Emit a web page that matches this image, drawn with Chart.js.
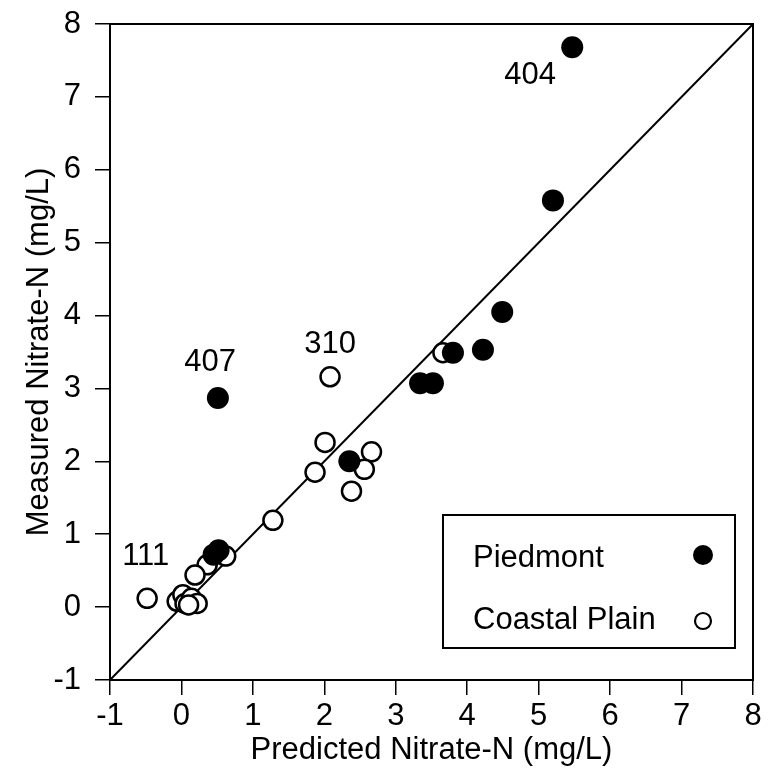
<!DOCTYPE html>
<html>
<head>
<meta charset="utf-8">
<script src="https://cdn.jsdelivr.net/npm/chart.js@4.4.0/dist/chart.umd.min.js"></script>
<style>
  html, body { margin: 0; padding: 0; background: #fff; }
  #wrap { width: 774px; height: 776px; }
</style>
</head>
<body>
<div id="wrap"><canvas id="nitrateChart"></canvas></div>
<script>
// data (mg/L)
const piedmontPredicted = [5.47, 5.20, 4.49, 4.22, 3.80, 3.34, 3.52, 2.35, 0.51, 0.45, 0.52];
const piedmontMeasured  = [7.68, 5.58, 4.05, 3.53, 3.49, 3.07, 3.07, 2.00, 2.87, 0.72, 0.78];

const coastalPredicted = [3.66, 2.08, 2.01, 1.87, 2.66, 2.56, 2.38, 1.28, 0.62, 0.36, 0.19, -0.48, -0.06, 0.02, 0.05, 0.14, 0.22, 0.10];
const coastalMeasured  = [3.49, 3.16, 2.26, 1.85, 2.13, 1.89, 1.59, 1.19, 0.70, 0.58, 0.44, 0.12, 0.08, 0.17, 0.05, 0.12, 0.05, 0.03];

const oneToOne = [-1, 8];
const seriesNames = ["Piedmont", "Coastal Plain"];

// site ids written next to outliers
const siteLabels = ["404", "407", "310", "111"];
const siteLabelX = [4.88, 0.40, 2.08, -0.50];
const siteLabelY = [7.30, 3.35, 3.61, 0.69];

const FONT = "'Liberation Sans', Arial, Helvetica, sans-serif";
const toPoints = (xs, ys) => xs.map((x, i) => ({ x, y: ys[i] }));

// frame, site labels and the boxed legend
const extrasPlugin = {
  id: "extras",
  afterDatasetsDraw(chart) {
    const { ctx, chartArea: a, scales: { x, y } } = chart;
    ctx.save();
    ctx.strokeStyle = "#000";
    ctx.lineWidth = 2;
    ctx.strokeRect(a.left, a.top, a.right - a.left, a.bottom - a.top);

    ctx.fillStyle = "#000";
    ctx.font = "31px " + FONT;
    ctx.textAlign = "center";
    ctx.textBaseline = "middle";
    siteLabels.forEach((t, i) => {
      ctx.fillText(t, x.getPixelForValue(siteLabelX[i]), y.getPixelForValue(siteLabelY[i]));
    });

    // legend box
    const boxR = a.right - 18, boxB = a.bottom - 32;
    const boxW = 292, boxH = 133;
    const boxL = boxR - boxW, boxT = boxB - boxH;
    ctx.fillStyle = "#fff";
    ctx.fillRect(boxL, boxT, boxW, boxH);
    ctx.lineWidth = 2;
    ctx.strokeRect(boxL, boxT, boxW, boxH);

    ctx.fillStyle = "#000";
    ctx.textAlign = "left";
    ctx.fillText(seriesNames[0], boxL + 30, boxT + 43);
    ctx.fillText(seriesNames[1], boxL + 30, boxT + 105);

    ctx.beginPath();
    ctx.arc(boxR - 32, boxT + 40, 10, 0, Math.PI * 2);
    ctx.fill();
    ctx.beginPath();
    ctx.arc(boxR - 32, boxT + 106, 8, 0, Math.PI * 2);
    ctx.lineWidth = 2.2;
    ctx.stroke();
    ctx.restore();
  }
};

const axisGrid = {
  display: true,
  drawOnChartArea: false,
  drawTicks: true,
  tickLength: 15,
  color: "#000",
  lineWidth: 1.5
};

new Chart(document.getElementById("nitrateChart"), {
  type: "scatter",
  data: {
    datasets: [
      {
        label: seriesNames[0],
        data: toPoints(piedmontPredicted, piedmontMeasured),
        backgroundColor: "#000",
        borderColor: "#000",
        borderWidth: 0,
        pointRadius: 11,
        order: 0
      },
      {
        label: seriesNames[1],
        data: toPoints(coastalPredicted, coastalMeasured),
        backgroundColor: "#fff",
        borderColor: "#000",
        borderWidth: 2.5,
        pointRadius: 9.5,
        order: 1
      },
      {
        type: "line",
        label: "1:1",
        data: toPoints(oneToOne, oneToOne),
        borderColor: "#000",
        borderWidth: 2,
        pointRadius: 0,
        fill: false,
        order: 2
      }
    ]
  },
  options: {
    responsive: true,
    maintainAspectRatio: false,
    animation: false,
    layout: { padding: { top: 24, right: 21, left: 0, bottom: 0 } },
    plugins: {
      legend: { display: false },
      tooltip: { enabled: false }
    },
    scales: {
      x: {
        type: "linear",
        min: -1,
        max: 8,
        ticks: { stepSize: 1, color: "#000", font: { family: FONT, size: 31 }, padding: 3 },
        grid: axisGrid,
        border: { display: true, color: "#000", width: 2 },
        title: {
          display: true,
          text: "Predicted Nitrate-N (mg/L)",
          color: "#000",
          font: { family: FONT, size: 31 },
          padding: { top: 0, bottom: 7 }
        },
        afterFit: s => { s.height = 96; }
      },
      y: {
        type: "linear",
        min: -1,
        max: 8,
        ticks: { stepSize: 1, color: "#000", font: { family: FONT, size: 31 }, padding: 14 },
        grid: axisGrid,
        border: { display: true, color: "#000", width: 2 },
        title: {
          display: true,
          text: "Measured Nitrate-N (mg/L)",
          color: "#000",
          font: { family: FONT, size: 31 },
          padding: { top: 21, bottom: 0 }
        },
        afterFit: s => {
          s.width = 110;
          s.paddingTop = 0;
          s.paddingBottom = 0;
        }
      }
    }
  },
  plugins: [extrasPlugin]
});
</script>
</body>
</html>
